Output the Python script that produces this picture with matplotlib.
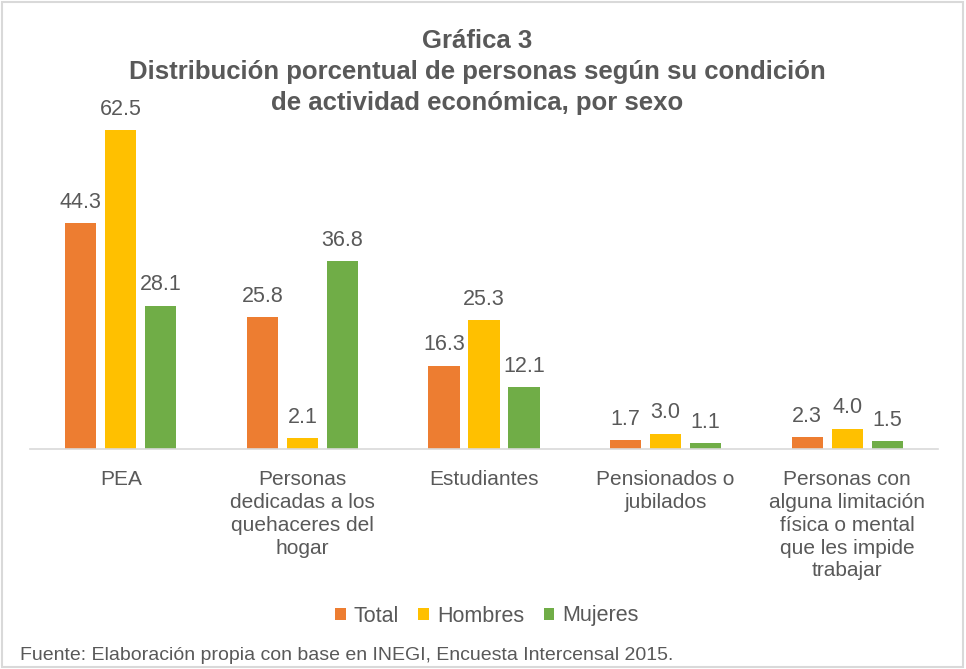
import matplotlib.pyplot as plt
import numpy as np
from matplotlib.patches import Rectangle

plt.rcParams['font.family'] = ['Liberation Sans', 'DejaVu Sans']

# condición de actividad económica, por sexo (%)
categorias = ['PEA',
              'Personas\ndedicadas a los\nquehaceres del\nhogar',
              'Estudiantes',
              'Pensionados o\njubilados',
              'Personas con\nalguna limitación\nfísica o mental\nque les impide\ntrabajar']
total = [44.3, 25.8, 16.3, 1.7, 2.3]
hombres = [62.5, 2.1, 25.3, 3.0, 4.0]
mujeres = [28.1, 36.8, 12.1, 1.1, 1.5]

series = ['Total', 'Hombres', 'Mujeres']
colores = ['#ED7D31', '#FFC000', '#70AD47']
gris = '#595959'
titulo = ['Gráfica 3',
          'Distribución porcentual de personas según su condición',
          'de actividad económica, por sexo']

fig = plt.figure(figsize=(9.66, 6.69), dpi=100)
ax = fig.add_axes([30 / 966, 220 / 669, 908 / 966, 357 / 669])

x = np.arange(len(categorias))
ancho = 0.172
paso = 0.22
for i, (vals, nombre, col) in enumerate(zip([total, hombres, mujeres], series, colores)):
    pos = x + (i - 1) * paso
    bars = ax.bar(pos, vals, width=ancho, color=col, label=nombre)
    for b, v in zip(bars, vals):
        ax.annotate(f'{v:.1f}', (b.get_x() + b.get_width() / 2, v),
                    xytext=(0, 7.5), textcoords='offset points',
                    ha='center', va='bottom', fontsize=15.5, color=gris)

ax.set_xlim(-0.5, len(categorias) - 0.5)
ax.set_ylim(0, 70)
ax.set_xticks(x)
ax.set_xticklabels(categorias, fontsize=15, color=gris, linespacing=1.26, va='top')
ax.tick_params(axis='x', length=0, pad=15)
ax.set_yticks([])
for s in ['top', 'right', 'left']:
    ax.spines[s].set_visible(False)
ax.spines['bottom'].set_color('#D9D9D9')
ax.spines['bottom'].set_linewidth(1.2)

# título en tres líneas
for k, linea in enumerate(titulo):
    fig.text(0.494, 1 - (41 + 31 * k) / 669, linea, ha='center', va='center',
             fontsize=18.5, fontweight='bold', color=gris)

fig.legend(loc='center', bbox_to_anchor=(0.504, 1 - 616 / 669), ncol=3, frameon=False,
           fontsize=15.5, labelcolor=gris, handlelength=0.5, handleheight=0.5,
           handletextpad=0.37, columnspacing=0.9)

fig.text(20 / 966, 1 - 655 / 669,
         'Fuente: Elaboración propia con base en INEGI, Encuesta Intercensal 2015.',
         ha='left', va='center', fontsize=14, color=gris)

# marco exterior
fig.patches.append(Rectangle((2 / 966, 2 / 669), 961 / 966, 665 / 669,
                             transform=fig.transFigure, fill=False,
                             edgecolor='#D9D9D9', linewidth=1.5))

fig.savefig('out.png', dpi=100)
